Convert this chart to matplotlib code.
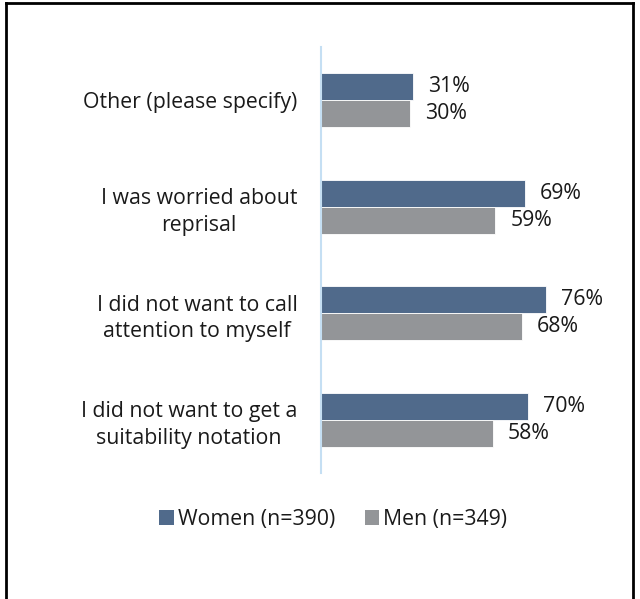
import matplotlib
matplotlib.use("Agg")
import matplotlib.pyplot as plt
from matplotlib.lines import Line2D
from matplotlib.patches import Patch
import numpy as np

categories = ["Other (please specify)",
              "I was worried about\nreprisal",
              "I did not want to call\nattention to myself",
              "I did not want to get a\nsuitability notation"]
women = [31, 69, 76, 70]
men = [30, 59, 68, 58]
series_names = ["Women (n=390)", "Men (n=349)"]
women_color = "#506A8B"
men_color = "#939598"

plt.rcParams['font.family'] = ['Open Sans', 'DejaVu Sans']

W, H = 640, 599
fig = plt.figure(figsize=(W/100, H/100), dpi=100)
ax_left = 321/W
ax_right = 616.7/W
ax_top = 1 - 47/H
ax_bot = 1 - 473/H
ax = fig.add_axes([ax_left, ax_bot, ax_right-ax_left, ax_top-ax_bot])

y = np.arange(len(categories))
h = 0.254
ax.barh(y - h/2, women, height=h, color=women_color, edgecolor="white", linewidth=0.6)
ax.barh(y + h/2, men, height=h, color=men_color, edgecolor="white", linewidth=0.6)
ax.set_xlim(0, 100)
ax.set_ylim(len(categories) - 0.5, -0.5)

fs = 15.3
for i, (w, m) in enumerate(zip(women, men)):
    ax.annotate(f"{w}%", (w, i - h/2), xytext=(15, 0), textcoords="offset pixels",
                va="center", ha="left", fontsize=fs, color="#1a1a1a")
    ax.annotate(f"{m}%", (m, i + h/2), xytext=(15, 0), textcoords="offset pixels",
                va="center", ha="left", fontsize=fs, color="#1a1a1a")

ax.set_yticks(y)
ax.set_yticklabels(categories, fontsize=fs, color="#1a1a1a", multialignment="center",
                   linespacing=1.33)
ax.tick_params(axis="y", length=0, pad=17)
ax.set_xticks([])
for s in ["top", "right", "bottom"]:
    ax.spines[s].set_visible(False)
ax.spines["left"].set_color("#C5DFF3")
ax.spines["left"].set_linewidth(1.5)

handles = [Patch(facecolor=women_color, edgecolor="none"),
           Patch(facecolor=men_color, edgecolor="none")]
fig.legend(handles, series_names, loc="center", bbox_to_anchor=(333/W, 1 - 519/H),
           ncol=2, frameon=False, fontsize=fs, handlelength=0.7, handleheight=0.7,
           handletextpad=0.15, columnspacing=1.4, labelcolor="#1a1a1a")

# outer border (left, top, right)
lw = 2
fig.add_artist(Line2D([5.5/W, 5.5/W], [0, 1 - 3/H], transform=fig.transFigure, color="black", lw=lw))
fig.add_artist(Line2D([5.5/W, 633/W], [1 - 3/H, 1 - 3/H], transform=fig.transFigure, color="black", lw=lw))
fig.add_artist(Line2D([633/W, 633/W], [0, 1 - 3/H], transform=fig.transFigure, color="black", lw=lw))

fig.savefig("out.png", dpi=100)
